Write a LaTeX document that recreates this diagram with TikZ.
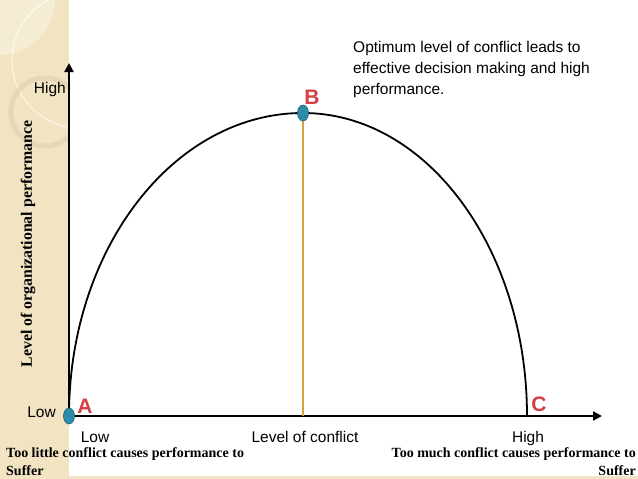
\documentclass[tikz,border=0pt]{standalone}
\usepackage{fontspec}
\setmainfont{Liberation Serif}
\setsansfont{Liberation Sans}
\usetikzlibrary{shapes.geometric,arrows.meta}
\definecolor{beige}{RGB}{242,228,194}
\definecolor{beigeline}{RGB}{224,210,180}
\definecolor{teal}{RGB}{46,140,168}
\definecolor{tealdark}{RGB}{30,100,125}
\definecolor{gold}{RGB}{214,162,62}
\definecolor{letterred}{RGB}{214,62,68}
\tikzset{
  axis/.style={line width=2.6pt,-{Triangle[length=9pt,width=9pt]}},
  curveline/.style={line width=1.8pt},
  optline/.style={line width=2.6pt,draw=gold},
  ptmark/.style={ellipse,fill=teal,draw=tealdark,line width=0.6pt,minimum width=11pt,minimum height=16pt,inner sep=0pt},
  lbl/.style={font=\sffamily\fontsize{15.5}{21}\selectfont,inner sep=0pt},
  note/.style={font=\bfseries\fontsize{14}{18}\selectfont,inner sep=0pt},
  letter/.style={font=\sffamily\bfseries\fontsize{21}{21}\selectfont,text=letterred,inner sep=0pt}
}
\begin{document}
\begin{tikzpicture}[x=1pt,y=-1pt]
\useasboundingbox (0,0) rectangle (638,479);
% background
\fill[white] (0,0) rectangle (638,479);
\fill[beige] (0,0) rectangle (69,479);
\fill[beige] (0,476) rectangle (638,479);
\begin{scope}
\clip (0,0) rectangle (69,479);
\fill[white,opacity=0.3] (0,0) circle[radius=55pt];
\draw[white,opacity=0.7,line width=1pt] (80,60) circle[radius=68pt];
\draw[beigeline,opacity=0.7,line width=5pt] (45,112) circle[radius=34pt];
\end{scope}
% coordinates
\coordinate (O) at (69,416);
\coordinate (ytip) at (69,63);
\coordinate (xtip) at (602,416);
\coordinate (peak) at (303,113);
\coordinate (foot) at (303,416);
\coordinate (Cpt) at (527,416);
% axes
\draw[axis] (O) -- (ytip);
\draw[axis] (O) -- (xtip);
% curve
\draw[curveline] (O) arc[start angle=180,end angle=90,x radius=234pt,y radius=303pt]
  arc[start angle=90,end angle=0,x radius=224pt,y radius=303pt];
% optimum line
\draw[optline] (foot) -- (peak);
% points
\node[ptmark] (pA) at (O) {};
\node[ptmark] (pB) at (peak) {};
% letters
\node[letter] (lA) at (85,406) {A};
\node[letter] (lB) at (312,97) {B};
\node[letter] (lC) at (539,404) {C};
% axis labels
\node[lbl,anchor=base east] (yhigh) at (66,93) {High};
\node[lbl,anchor=base east] (ylow) at (56,417) {Low};
\node[lbl,anchor=base] (xlow) at (95,442) {Low};
\node[lbl,anchor=base] (xmid) at (305,442) {Level of conflict};
\node[lbl,anchor=base] (xhigh) at (528,442) {High};
\node[font=\bfseries\fontsize{15.8}{18}\selectfont,inner sep=0pt,rotate=90] (ylab) at (28,244) {Level of organizational performance};
% annotation
\node[lbl,anchor=north west,align=left] (opt) at (353,41) {Optimum level of conflict leads to\\effective decision making and high\\performance.};
% notes
\node[note,anchor=base west,align=left] (nleft) at (6,457) {Too little conflict causes performance to};
\node[note,anchor=base west] (nleft2) at (6,475) {Suffer};
\node[note,anchor=base east] (nright) at (636,457) {Too much conflict causes performance to};
\node[note,anchor=base east] (nright2) at (636,475) {Suffer};
\end{tikzpicture}
\end{document}
